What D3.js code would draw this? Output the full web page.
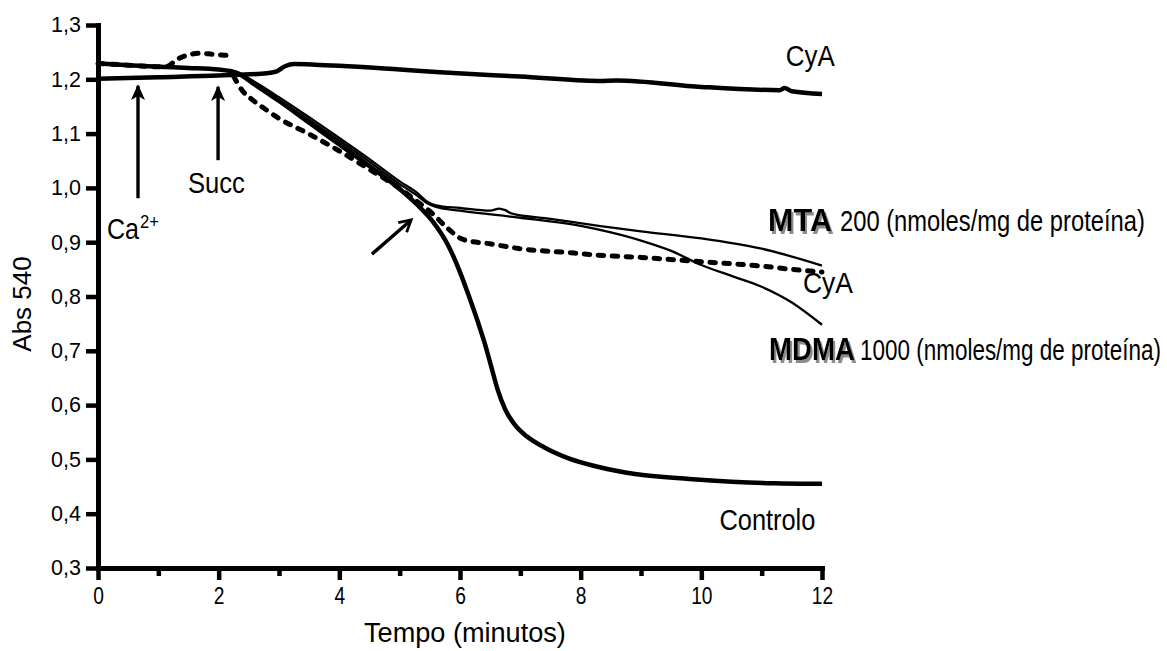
<!DOCTYPE html>
<html><head><meta charset="utf-8">
<script src="https://cdn.jsdelivr.net/npm/d3@7"></script>
<style>
body{margin:0;background:#fff;}
text{font-family:"Liberation Sans",Arial,sans-serif;fill:#000;}
</style>
</head><body>
<svg id="chart" width="1167" height="651"></svg>
<script>
// ---------- tick values / labels ----------
const xTicks = [0, 2, 4, 6, 8, 10, 12];
const xMinorTicks = [1, 3, 5, 7, 9, 11];
const yTicks = [0.3, 0.4, 0.5, 0.6, 0.7, 0.8, 0.9, 1.0, 1.1, 1.2, 1.3];
const yTickLabels = ["0,3","0,4","0,5","0,6","0,7","0,8","0,9","1,0","1,1","1,2","1,3"];

// ---------- series (time in minutes, Abs 540) ----------
const cyaTime = [0, 1, 2, 2.8, 2.95, 3.1, 3.25, 3.6, 4, 5, 5.67, 7, 8.3, 8.6, 10, 11.3, 11.38, 11.5, 12];
const cyaAbs  = [1.201, 1.204, 1.207, 1.211, 1.214, 1.224, 1.228, 1.227, 1.225, 1.218, 1.213, 1.205, 1.197, 1.198, 1.186, 1.180, 1.184, 1.178, 1.173];

const controloTime = [0, 0.5, 1, 1.5, 2, 2.3, 2.6, 3, 3.5, 4, 4.5, 5, 5.3, 5.55, 5.8, 6.0, 6.15, 6.3, 6.42, 6.52, 6.62, 6.75, 6.9, 7.1, 7.4, 7.8, 8.3, 8.9, 9.8, 10.5, 11.2, 12];
const controloAbs  = [1.229, 1.226, 1.223, 1.221, 1.218, 1.212, 1.19, 1.16, 1.12, 1.08, 1.04, 0.998, 0.968, 0.938, 0.895, 0.845, 0.80, 0.752, 0.71, 0.67, 0.63, 0.592, 0.565, 0.543, 0.522, 0.502, 0.486, 0.473, 0.464, 0.459, 0.456, 0.455];

const mtaTime = [0, 1, 2, 2.3, 2.6, 3, 3.5, 4, 4.5, 5, 5.3, 5.45, 5.6, 6, 6.5, 6.65, 6.75, 6.85, 7.5, 8.3, 9, 10, 11, 12];
const mtaAbs  = [1.229, 1.223, 1.218, 1.213, 1.195, 1.167, 1.13, 1.092, 1.053, 1.012, 0.99, 0.975, 0.968, 0.963, 0.958, 0.962, 0.959, 0.953, 0.943, 0.93, 0.92, 0.907, 0.888, 0.857];

const mdmaTime = [0, 1, 2, 2.3, 2.6, 3, 3.5, 4, 4.5, 5, 5.3, 5.45, 5.6, 6, 7, 8, 8.5, 9, 9.5, 10, 10.5, 11, 11.5, 12];
const mdmaAbs  = [1.229, 1.223, 1.218, 1.213, 1.192, 1.162, 1.125, 1.087, 1.048, 1.007, 0.985, 0.972, 0.965, 0.958, 0.945, 0.93, 0.918, 0.903, 0.884, 0.858, 0.838, 0.818, 0.789, 0.748];

// dashed trace (null = gap in the recording)
const mdmaCyaTime = [0, 0.5, 1, 1.15, 1.3, 1.5, 1.7, 1.9, 2.15, 2.2, 2.25, 2.4, 2.55, 2.8, 3, 3.5, 4, 4.5, 5, 5.3, 5.55, 5.8, 6.05, 6.5, 7, 7.9, 8.3, 9, 10, 11, 11.5, 12];
const mdmaCyaAbs  = [1.229, 1.226, 1.223, 1.224, 1.236, 1.245, 1.248, 1.246, 1.244, null, 1.205, 1.178, 1.163, 1.143, 1.128, 1.099, 1.068, 1.034, 0.999, 0.974, 0.952, 0.925, 0.905, 0.897, 0.888, 0.88, 0.876, 0.872, 0.864, 0.856, 0.85, 0.845];

// ---------- layout ----------
const svg = d3.select("#chart");
const x = d3.scaleLinear().domain([0, 12]).range([98, 822]);
const y = d3.scaleLinear().domain([0.3, 1.3]).range([568, 25]);

const defs = svg.append("defs");
const f = defs.append("filter").attr("id", "shadow").attr("x", "-10%").attr("y", "-20%").attr("width", "130%").attr("height", "150%");
f.append("feOffset").attr("in", "SourceAlpha").attr("dx", 2.5).attr("dy", 2.5).attr("result", "off");
f.append("feFlood").attr("flood-color", "#8c8c8c").attr("result", "col");
f.append("feComposite").attr("in", "col").attr("in2", "off").attr("operator", "in").attr("result", "sh");
const fm = f.append("feMerge");
fm.append("feMergeNode").attr("in", "sh");
fm.append("feMergeNode").attr("in", "SourceGraphic");

const toPts = (t, v) => t.map((d, i) => [d, v[i]]);
const line = d3.line().defined(d => d[1] != null).x(d => x(d[0])).y(d => y(d[1])).curve(d3.curveMonotoneX);

// dashed first (underneath)
svg.append("path").attr("d", line(toPts(mdmaCyaTime, mdmaCyaAbs)))
  .attr("fill", "none").attr("stroke", "#000").attr("stroke-width", 5)
  .attr("stroke-dasharray", "5.5,8.5").attr("stroke-linecap", "round");
svg.append("path").attr("d", line(toPts(mtaTime, mtaAbs)))
  .attr("fill", "none").attr("stroke", "#000").attr("stroke-width", 2.3);
svg.append("path").attr("d", line(toPts(mdmaTime, mdmaAbs)))
  .attr("fill", "none").attr("stroke", "#000").attr("stroke-width", 2.3);
svg.append("path").attr("d", line(toPts(controloTime, controloAbs)))
  .attr("fill", "none").attr("stroke", "#000").attr("stroke-width", 4.5);
svg.append("path").attr("d", line(toPts(cyaTime, cyaAbs)))
  .attr("fill", "none").attr("stroke", "#000").attr("stroke-width", 4.5);

// ---------- axes ----------
const yAxis = svg.append("g").attr("transform", `translate(${x(0)},0)`)
  .call(d3.axisLeft(y).tickValues(yTicks).tickFormat((d, i) => yTickLabels[i]).tickSize(12).tickSizeOuter(0).tickPadding(5));
const xAxisMinor = svg.append("g").attr("transform", `translate(0,${y(0.3)})`)
  .call(d3.axisBottom(x).tickValues(xMinorTicks).tickFormat("").tickSize(8).tickSizeOuter(0));
const xAxis = svg.append("g").attr("transform", `translate(0,${y(0.3)})`)
  .call(d3.axisBottom(x).tickValues(xTicks).tickSize(12).tickSizeOuter(0).tickPadding(7));

[yAxis, xAxis, xAxisMinor].forEach(g => {
  g.select(".domain").attr("stroke", "#000").style("stroke-width", "5px").attr("stroke-linecap", "square");
  g.selectAll(".tick line").attr("stroke", "#000").style("stroke-width", "4.5px");
  g.selectAll("text").attr("font-size", 21.5).attr("font-family", "Liberation Sans, Arial, sans-serif").attr("fill", "#000");
});
// x tick labels are taller and narrow in the reference
xAxis.selectAll(".tick text").attr("font-size", 24).each(function() {
  const w = this.getComputedTextLength();
  d3.select(this).attr("textLength", w * 0.8).attr("lengthAdjust", "spacingAndGlyphs");
});

// condensed text helper: places text at (px,py) and squeezes it horizontally to a width
function condText(px, py, str, size, width, opts = {}) {
  const g = svg.append("g");
  const t = g.append("text").attr("font-size", size).text(str);
  if (opts.bold) t.attr("font-weight", "bold");
  if (opts.filter) t.attr("filter", opts.filter);
  const w = t.node().getComputedTextLength();
  const sx = width / w;
  const anchorShift = opts.anchor === "middle" ? -width / 2 : 0;
  g.attr("transform", `translate(${px + anchorShift},${py}) scale(${sx},1)`);
  return g;
}

// axis titles
condText((x(0) + x(12)) / 2 + 5, 642, "Tempo (minutos)", 27, 202, {anchor: "middle"});
svg.append("text").attr("transform", "translate(31,304) rotate(-90)").attr("text-anchor", "middle")
  .attr("font-size", 26).text("Abs 540");

// ---------- annotations ----------
defs.append("marker").attr("id", "head").attr("viewBox", "0 0 10 10").attr("refX", 9).attr("refY", 5)
  .attr("markerWidth", 4.6).attr("markerHeight", 4.6).attr("orient", "auto").attr("markerUnits", "strokeWidth")
  .append("path").attr("d", "M0,0.5 L10,5 L0,9.5 L2.5,5 Z").attr("fill", "#000");
defs.append("marker").attr("id", "vhead").attr("viewBox", "0 0 12 12").attr("refX", 10).attr("refY", 6)
  .attr("markerWidth", 4.5).attr("markerHeight", 4.5).attr("orient", "auto").attr("markerUnits", "strokeWidth")
  .append("path").attr("d", "M1,1 L10,6 L1,11").attr("fill", "none").attr("stroke", "#000").attr("stroke-width", 2.2);

const arrows = [
  {t0: 0.663, v0: 0.981, t1: 0.663, v1: 1.188, head: "head"},
  {t0: 1.99, v0: 1.051, t1: 1.99, v1: 1.186, head: "head"},
  {t0: 4.54, v0: 0.878, t1: 5.19, v1: 0.941, head: "vhead"}
];
arrows.forEach(a => {
  svg.append("line").attr("x1", x(a.t0)).attr("y1", y(a.v0)).attr("x2", x(a.t1)).attr("y2", y(a.v1))
    .attr("stroke", "#000").attr("stroke-width", 3.4).attr("marker-end", `url(#${a.head})`);
});

// Ca2+
condText(x(0.15), y(0.905), "Ca", 30, 32);
condText(x(0.15) + 33, y(0.905) - 11, "2+", 19, 19);

condText(x(1.49), y(0.99), "Succ", 30, 57);
condText(x(11.40), y(1.224), "CyA", 30, 49);
condText(x(11.685), y(0.806), "CyA", 30, 50);
condText(x(10.3), y(0.37), "Controlo", 30, 96);

// bold labels with grey shadow
condText(x(11.105), y(0.92), "MTA", 31, 64, {bold: true, filter: "url(#shadow)"});
condText(840, y(0.92), "200 (nmoles/mg de proteína)", 30, 305);
condText(x(11.12), y(0.683), "MDMA", 31, 86, {bold: true, filter: "url(#shadow)"});
condText(860, y(0.683), "1000 (nmoles/mg de proteína)", 30, 301);
</script>
</body></html>
